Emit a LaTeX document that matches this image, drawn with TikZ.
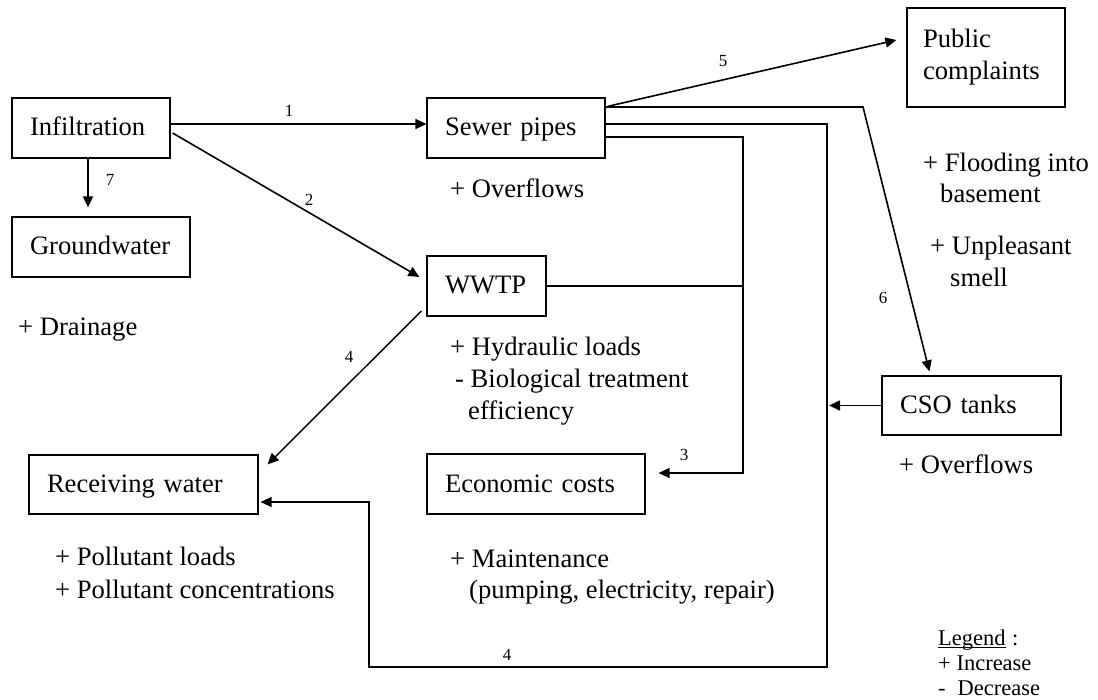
\documentclass[tikz,border=0pt]{standalone}
\usepackage{fontspec}
\setmainfont{Liberation Serif}
\usetikzlibrary{arrows.meta,calc}
\newcommand\mainf{\fontsize{26.6pt}{32pt}\selectfont}
\newcommand\numf{\fontsize{17pt}{20pt}\selectfont}
\newcommand\legf{\fontsize{22.5pt}{26pt}\selectfont}
\begin{document}
\begin{tikzpicture}[x=1pt,y=-1pt,
  box/.style={draw, line width=1.2pt, inner xsep=18pt, inner ysep=0pt, align=left, font=\mainf},
  onel/.style={text height=16pt, text depth=0pt},
  txt/.style={inner sep=0pt, anchor=base west, font=\mainf},
  num/.style={inner sep=0pt, font=\numf},
  leg/.style={inner sep=0pt, anchor=base west, font=\legf},
  conn/.style={line width=1.6pt},
  arr/.style={conn, -{Triangle[length=11pt,width=10pt]}},
]
\fill[white] (0,0) rectangle (1098,700);
\useasboundingbox (0,0) rectangle (1098,700);

% boxes
\node[box,onel,text width=122pt,minimum height=60pt] (inf) at (91,128) {Infiltration};
\node[box,onel,text width=142pt,minimum height=60pt] (gw) at (101,247) {Groundwater};
\node[box,onel,text width=142pt,minimum height=60pt] (sewer) at (516,128) {Sewer pipes};
\node[box,onel,text width=83pt,minimum height=60pt] (wwtp) at (486.5,286) {WWTP};
\node[box,onel,text width=193pt,minimum height=59pt] (rw) at (143.5,484.5) {Receiving water};
\node[box,onel,text width=182pt,minimum height=60pt] (ec) at (536,484) {Economic costs};
\node[box,onel,text width=143pt,minimum height=59pt] (cso) at (971.5,405.5) {CSO tanks};
\node[box,inner xsep=16pt,text width=126pt,minimum height=99pt] (pc) at (986,57.5) {Public\\complaints};

% bend points
\coordinate (k6) at (863,107);
\coordinate (k4a) at (827,124);
\coordinate (k4b) at (827,667);
\coordinate (k4c) at (369,667);
\coordinate (k4d) at (369,502);
\coordinate (k3a) at (743,137);
\coordinate (k3b) at (743,473);

% connectors
\draw[arr] (inf.east |- 0,124) -- (sewer.west |- 0,124);
\draw[arr] ($(inf.east)+(2,5)$) -- ($(wwtp.west)+(-7,-9)$);
\draw[arr] (inf.south -| 88,0) -- ($(gw.north -| 88,0)+(0,-9)$);
\draw[arr,line width=1.4pt] ($(wwtp.west)+(-5,25)$) -- ($(rw.north east)+(9,10)$);
\draw[arr] ($(sewer.north east)+(2,9)$) -- ($(pc.west)+(-10,-17.5)$);
\draw[arr] (sewer.east |- k6) -- (k6) -- ($(cso.north west)+(48,-4)$);
\draw[arr] (sewer.east |- k4a) -- (k4a) -- (k4b) -- (k4c) -- (k4d) -- ($(rw.east |- k4d)+(2,0)$);
\draw[arr] (sewer.east |- k3a) -- (k3a) -- (k3b) -- ($(ec.east |- k3b)+(13,0)$);
\draw[line width=1.1pt] (wwtp.east) -- (wwtp.east -| k3a);
\draw[arr] (cso.west) -- (cso.west -| 829,0);

% connector numbers
\node[num] (n1) at (289,111) {1};
\node[num] (n2) at (309,200) {2};
\node[num] (n3) at (684,455) {3};
\node[num] (n4a) at (349,357) {4};
\node[num] (n4b) at (507,655) {4};
\node[num] (n5) at (723,61) {5};
\node[num] (n6) at (883,298) {6};
\node[num] (n7) at (110,180) {7};

% effects
\node[txt] (tsp) at (450,198) {+ Overflows};
\node[txt] (tdr) at (18,336) {+ Drainage};
\node[txt] (th1) at (450,356) {+ Hydraulic loads};
\node[txt] (th2) at (455,388) {- Biological treatment};
\node[txt] (th3) at (468,420) {efficiency};
\node[txt] (tr1) at (55,565) {+ Pollutant loads};
\node[txt] (tr2) at (55,598) {+ Pollutant concentrations};
\node[txt] (te1) at (450,567) {+ Maintenance};
\node[txt] (te2) at (469,598) {(pumping, electricity, repair)};
\node[txt] (tc1) at (899,474) {+ Overflows};
\node[txt] (tf1) at (923,172) {+ Flooding into};
\node[txt] (tf2) at (940,203) {basement};
\node[txt] (tu1) at (930,255) {+ Unpleasant};
\node[txt] (tu2) at (950,287) {smell};

% legend
\node[leg] (lg) at (938,645) {Legend};
\node[leg] (lgc) at ($(lg.base east)+(6,0)$) {:};
\draw[line width=0.9pt] ($(lg.base west)+(0,2)$) -- ($(lg.base east)+(0,2)$);
\node[leg] (li) at (938,670) {+ Increase};
\node[leg] (ld) at (938,695) {-\hspace{12pt}Decrease};
\end{tikzpicture}
\end{document}
